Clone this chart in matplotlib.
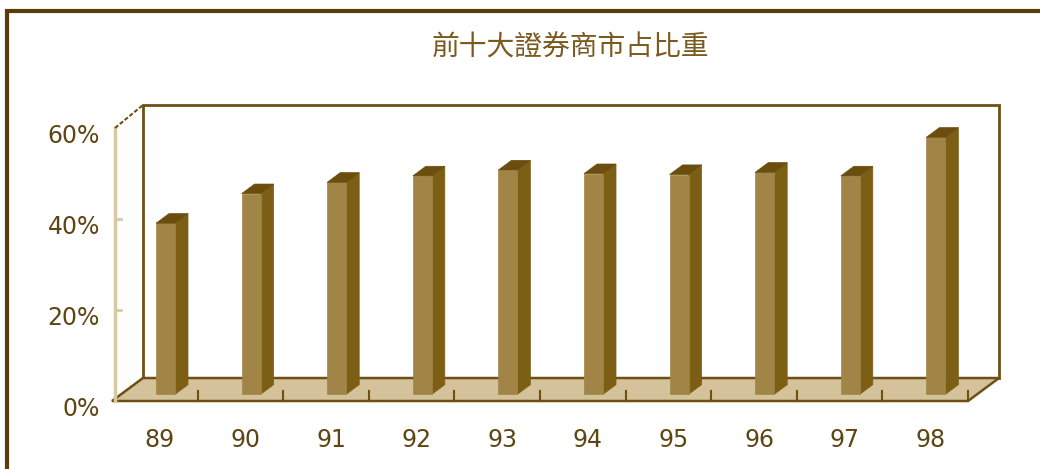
import matplotlib
matplotlib.use("Agg")
import matplotlib.pyplot as plt
from matplotlib.patches import Polygon, Rectangle

plt.rcParams['font.family'] = ['Noto Sans CJK TC', 'DejaVu Sans']

# Data: share of the top ten securities firms (%)
years = ['89', '90', '91', '92', '93', '94', '95', '96', '97', '98']
share = [37.6, 44.1, 46.6, 48.0, 49.3, 48.5, 48.3, 48.8, 48.0, 56.5]
y_ticks = [0, 20, 40, 60]
y_tick_labels = ['0%', '20%', '40%', '60%']
title = '前十大證券商市占比重'

# Colours
c_text = '#5e4513'
c_title = '#7a5a1e'
c_line = '#6e5014'
c_wall_axis = '#d9c9a3'
c_floor = '#d4c29b'
c_front = '#a08547'
c_side = '#7d5e15'
c_top = '#6b4d0e'

W, H = 1040, 469
fig = plt.figure(figsize=(W / 100, H / 100), dpi=100)

# Front plane of the 3D box: x in category units, y in percent
ax = fig.add_axes([112 / W, 68 / H, 856 / W, 273 / H])
n = len(years)
ax.set_xlim(-0.5, n - 0.5)
ax.set_ylim(0, 60)
ax.axis('off')

# depth offset of the box (category units, percent units)
ddx, ddy = 0.362, 5.05


def proj(x, h, t):
    return (x + t * ddx, h + t * ddy)


x_lo, x_hi = -0.5, n - 0.5
y_top = y_ticks[-1]

# back wall
back = [proj(x_lo, 0, 1), proj(x_hi, 0, 1), proj(x_hi, y_top, 1), proj(x_lo, y_top, 1)]
ax.add_patch(Polygon(back, closed=True, facecolor='white', edgecolor=c_line,
                     lw=2.0, clip_on=False, zorder=1))

# floor
floor = [proj(x_lo, 0, 0), proj(x_hi, 0, 0), proj(x_hi, 0, 1), proj(x_lo, 0, 1)]
ax.add_patch(Polygon(floor, closed=True, facecolor=c_floor, edgecolor=c_line,
                     lw=1.8, clip_on=False, zorder=2))

# category tick marks on the front edge of the floor
for i in range(n):
    xb = i + 0.5
    ax.plot([xb, xb], [0, 2.3], color=c_line, lw=1.5, clip_on=False, zorder=3)

# value axis on the front-left edge of the side wall
xa = x_lo + 3 / 85.6
ax.plot([xa, xa], [0, y_top], color=c_wall_axis, lw=2.5, clip_on=False, zorder=2)
for v in y_ticks[1:-1]:
    ax.plot([xa, xa + 0.07], [v, v], color=c_wall_axis, lw=2.0, clip_on=False, zorder=2)
p0 = (xa, y_top)
p1 = proj(x_lo, y_top, 1)
ax.plot([p0[0], p1[0]], [p0[1], p1[1]], color=c_line, lw=1.5, ls=(0, (2, 1)),
        clip_on=False, zorder=2)

# y tick labels
for v, lab in zip(y_ticks, y_tick_labels):
    ax.text(x_lo - 0.14, v - 1.75, lab, ha='right', va='center', fontsize=17,
            color=c_text, family=['DejaVu Sans'], clip_on=False)

# category labels
for i, lab in enumerate(years):
    ax.text(i + 0.06, -8.6, lab, ha='center', va='center', fontsize=17,
            color=c_text, family=['DejaVu Sans'], clip_on=False)

# 3D columns
fw = 0.222   # column width (category units)
d = 0.42     # column depth (fraction of box depth)
shift = 0.02
t0, t1 = 0.5 - d / 2, 0.5 + d / 2
for i, v in enumerate(share):
    x0, x1 = i - fw / 2 + shift, i + fw / 2 + shift
    front = [proj(x0, 0, t0), proj(x1, 0, t0), proj(x1, v, t0), proj(x0, v, t0)]
    side = [proj(x1, 0, t0), proj(x1, 0, t1), proj(x1, v, t1), proj(x1, v, t0)]
    top = [proj(x0, v, t0), proj(x1, v, t0), proj(x1, v, t1), proj(x0, v, t1)]
    ax.add_patch(Polygon(side, closed=True, facecolor=c_side, edgecolor=c_side,
                         lw=0.5, clip_on=False, zorder=5))
    ax.add_patch(Polygon(front, closed=True, facecolor=c_front, edgecolor=c_front,
                         lw=0.5, clip_on=False, zorder=5))
    ax.add_patch(Polygon(top, closed=True, facecolor=c_top, edgecolor=c_top,
                         lw=0.5, clip_on=False, zorder=6))

# title
fig.text(570 / W, 1 - 48 / H, title, ha='center', va='center', fontsize=20,
         color=c_title)

# outer frame (runs off the right and bottom of the image)
fig.add_artist(Rectangle((7 / W, -0.1), 1.2, (H - 11) / H + 0.1,
                         transform=fig.transFigure, fill=False,
                         edgecolor='#5a3c08', lw=3.0))

fig.savefig('out.png', dpi=100)
